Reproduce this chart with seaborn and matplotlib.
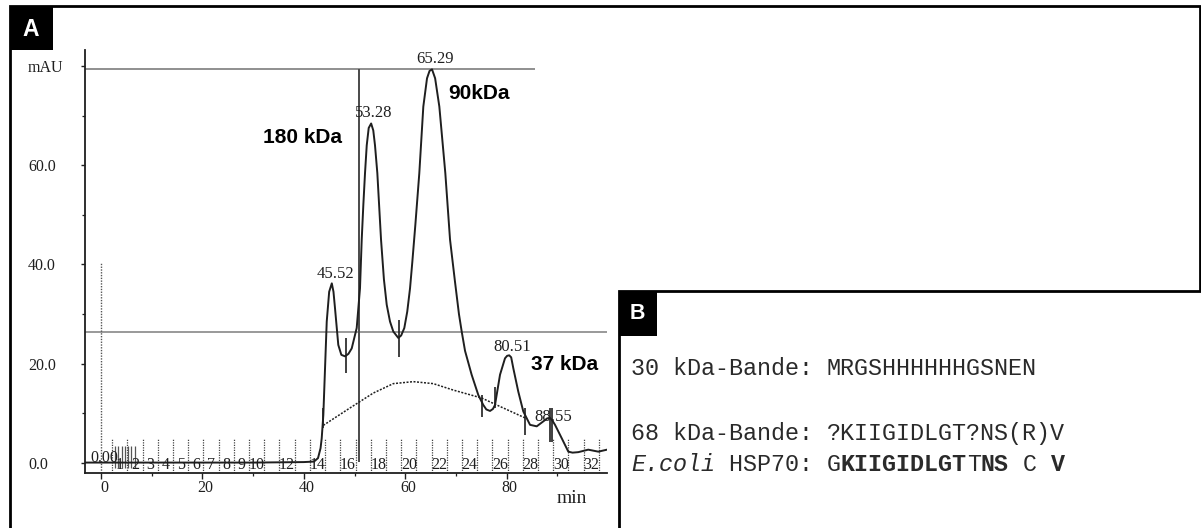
import matplotlib
matplotlib.use("Agg")
import matplotlib.pyplot as plt
from matplotlib.patches import Rectangle
from matplotlib.ticker import FixedLocator
from matplotlib.transforms import ScaledTranslation
import seaborn as sns

# ---------------------------------------------------------------- data
# UV trace of the gel filtration run (elution time in min, absorbance in mAU)
trace_time = [-3.16, 10.0, 20.0, 30.0, 40.0, 42.0, 42.8, 43.3, 43.53, 43.85,
              44.52, 45.0, 45.52, 45.85, 46.15, 46.8, 47.4, 48.13, 48.8, 49.45,
              50.43, 51.08, 51.42, 51.74, 52.07, 52.41, 52.8, 53.28, 53.7, 54.04,
              54.5, 55.23, 55.8, 56.35, 57.0, 57.65, 58.64, 59.2, 59.82, 60.4,
              60.95, 61.4, 62.0, 62.78, 63.57, 64.3, 64.8, 65.29, 65.9, 66.73,
              67.91, 68.84, 69.82, 70.6, 71.14, 71.8, 73.1, 74.42, 75.4, 76.0, 76.73,
              77.3, 77.71, 78.7, 79.68, 80.1, 80.51, 80.9, 81.32, 82.3, 83.29,
              84.62, 85.94, 87.24, 88.0, 88.55, 89.0, 89.55, 90.87, 92.17, 93.0,
              94.14, 96.1, 98.09, 99.8]
trace_abs = [0.1, 0.1, 0.1, 0.1, 0.2, 0.3, 1.0, 3.0, 5.0, 9.7,
             28.5, 34.5, 36.2, 34.5, 31.2, 23.8, 21.8, 21.5, 22.0, 23.1,
             27.2, 35.2, 45.0, 52.0, 58.4, 64.0, 67.5, 68.4, 67.0, 64.0,
             58.4, 45.0, 37.0, 31.9, 28.5, 26.5, 25.2, 25.7, 27.2, 30.5,
             35.2, 40.5, 48.0, 58.4, 71.8, 77.5, 79.0, 79.3, 77.5, 71.8,
             58.4, 45.0, 36.5, 30.0, 26.5, 22.6, 17.8, 13.7, 11.7, 10.8, 10.5,
             10.9, 11.7, 17.8, 21.1, 21.6, 21.7, 21.3, 19.1, 14.4, 10.4,
             7.7, 7.4, 8.4, 9.0, 9.1, 8.6, 7.7, 5.0, 2.3, 2.1,
             2.2, 2.7, 2.3, 2.7]

# integration baseline drawn under the protein peaks
base_time = [43.85, 49.1, 53.7, 57.65, 61.6, 65.54, 69.49, 75.09, 78.05, 83.63]
base_abs = [7.6, 11.1, 14.1, 16.0, 16.4, 16.0, 14.7, 13.1, 11.7, 9.1]

# integrated peaks (retention time, apex height)
peak_times = [45.52, 53.28, 65.29, 80.51, 88.55]
peak_heights = [36.2, 68.4, 79.3, 21.7, 9.1]

# integration start/stop ticks
event_time = [43.85, 48.4, 58.8, 75.1, 77.7, 83.6, 88.56, 89.0]
event_low = [7.0, 18.1, 21.4, 9.3, 11.1, 5.7, 4.3, 4.3]
event_high = [11.0, 25.1, 28.8, 13.7, 15.4, 11.1, 11.1, 11.1]

# fraction collector: boundaries (min) and fraction numbers printed
fraction_bounds = [2.2, 5.2, 8.2, 11.2, 14.2, 17.2, 20.2, 23.2, 26.2, 29.2,
                   32.2, 35.2, 38.2, 41.2, 44.2, 47.2, 50.2, 53.2, 56.2, 59.2,
                   62.2, 65.2, 68.2, 71.2, 74.2, 77.2, 80.2, 83.2, 86.2, 89.2,
                   92.2, 95.2, 98.2]
fraction_labels = ["1", "2", "3", "4", "5", "6", "7", "8", "9", "10",
                   "", "12", "", "14", "", "16", "", "18", "", "20",
                   "", "22", "", "24", "", "26", "", "28", "", "30",
                   "", "32"]

# injection and early method events
injection_time = 0.0
injection_mark_top = 40.6
startup_marks = [2.8, 3.4, 4.1, 4.7, 5.4, 6.0, 6.7]

# reference levels of the run report
upper_level = 79.3
upper_level_end = 85.6
threshold_level = 26.4
collect_time = 50.9
collect_bottom = 0.3

# molecular-weight assignments
mw_labels = ["180 kDa", "90kDa", "37 kDa"]

# axis ticks
x_ticks = [0, 20, 40, 60, 80]
y_ticks = [0, 20, 40, 60, 80]
y_ticklabels = ["0.0", "20.0", "40.0", "60.0", "mAU"]

# N-terminal sequencing results
seq_rows = [
    [("30 kDa-Bande: ", "normal", "normal"), ("MRGSHHHHHHGSNEN", "normal", "normal")],
    [("68 kDa-Bande: ", "normal", "normal"), ("?KIIGIDLGT?NS(R)V", "normal", "normal")],
    [("E.coli", "normal", "italic"), (" HSP70: ", "normal", "normal"),
     ("G", "normal", "normal"), ("KIIGIDLGT", "bold", "normal"),
     ("T", "normal", "normal"), ("NS", "bold", "normal"),
     (" C ", "normal", "normal"), ("V", "bold", "normal")],
]

# ---------------------------------------------------------------- style
sns.set_theme(style="ticks")
SERIF = "Liberation Serif"
SANS = "Liberation Sans"
MONO = "Liberation Mono"
plt.rcParams["font.family"] = [SERIF, "DejaVu Sans"]
INK = "#1f1f1f"
GREY = "#7d7d7d"

W, H = 1201, 528
fig = plt.figure(figsize=(W / 100, H / 100), dpi=100)
fig.patch.set_facecolor("white")


def fx(px):
    return px / W


def fy(py):
    return 1 - py / H


# ---------------------------------------------------------------- panel A
ax = fig.add_axes([fx(85), fy(473), (607 - 85) / W, (473 - 50) / H])
ax.set_facecolor("white")

sns.lineplot(x=trace_time, y=trace_abs, sort=False, estimator=None, ax=ax,
             color=INK, lw=1.4, zorder=4)
sns.lineplot(x=base_time, y=base_abs, sort=False, estimator=None, ax=ax,
             color=INK, lw=1.1, linestyle=(0, (1.3, 1.0)), zorder=3)

ax.hlines(upper_level, -3.16, upper_level_end, color=GREY, lw=1.2, zorder=2)
ax.hlines(threshold_level, -3.16, 99.8, color=GREY, lw=1.1, zorder=2)
ax.vlines(collect_time, collect_bottom, upper_level, color="#4a4a4a", lw=1.4, zorder=2)
ax.vlines(injection_time, -2.0, injection_mark_top, color="#555555", lw=1.0,
          linestyles=(0, (1.0, 1.0)), zorder=2)
ax.vlines(event_time, event_low, event_high, color=INK, lw=1.2, zorder=5)
ax.vlines(fraction_bounds, -2.0, 5.1, color="#444444", lw=0.9,
          linestyles=(0, (1.0, 1.0)), zorder=2)
ax.vlines(startup_marks, -1.0, 3.5, color="#555555", lw=0.9, zorder=2)

for k, lab in enumerate(fraction_labels):
    if lab:
        mid = (fraction_bounds[k] + fraction_bounds[k + 1]) / 2
        ax.text(mid, -0.4, lab, ha="center", va="center", fontsize=11.5,
                color=INK, family=SERIF, zorder=6)

ax.text(injection_time + 0.6, 1.0, "0.00", ha="center", va="center",
        fontsize=11.5, color=INK, family=SERIF, zorder=6)

peak_offsets = [(0.7, 0.2), (0.5, 0.4), (0.6, 0.4), (0.6, 0.0), (0.6, -1.5)]
for t, h, (dx, dy) in zip(peak_times, peak_heights, peak_offsets):
    ax.text(t + dx, h + dy, f"{t:.2f}", ha="center", va="bottom",
            fontsize=12, color=INK, family=SERIF, zorder=6)

mw_pos = [(39.7, 65.5), (74.6, 74.5), (91.4, 19.8)]
for lab, (t, v) in zip(mw_labels, mw_pos):
    ax.text(t, v, lab, ha="center", va="center", fontsize=15,
            fontweight="bold", color="black", family=SANS, zorder=6)

ax.text(92.9, -7.2, "min", ha="center", va="center", fontsize=14,
        color=INK, family=SERIF, clip_on=False)

ax.set_xlim(-3.16, 99.8)
ax.set_ylim(-2.0, 83.2)
sns.despine(ax=ax)
for side in ("left", "bottom"):
    ax.spines[side].set_color(INK)
    ax.spines[side].set_linewidth(1.3)

ax.set_xticks(x_ticks)
ax.set_xticklabels([str(v) for v in x_ticks])
ax.set_yticks(y_ticks)
ax.set_yticklabels(y_ticklabels)
ax.xaxis.set_minor_locator(FixedLocator([10, 30, 50, 70, 90]))
ax.yaxis.set_minor_locator(FixedLocator([10, 30, 50, 70]))
ax.tick_params(axis="y", which="major", direction="out", length=3, width=1.0,
               pad=38, labelsize=11.5, colors=INK)
ax.tick_params(axis="x", which="major", direction="out", length=4, width=1.0,
               pad=1, labelsize=11.5, colors=INK)
ax.tick_params(which="minor", direction="out", length=2, width=0.9, colors=INK)
for lab in ax.get_yticklabels():
    lab.set_horizontalalignment("left")
    lab.set_family(SERIF)
shift = ScaledTranslation(3 / 100, 0, fig.dpi_scale_trans)
for lab in ax.get_xticklabels():
    lab.set_transform(lab.get_transform() + shift)
    lab.set_family(SERIF)
ax.set_xlabel("")
ax.set_ylabel("")

# ---------------------------------------------------------------- frames
fig.add_artist(Rectangle((fx(9.5), fy(545)), fx(1200.3) - fx(9.5), fy(6.5) - fy(545),
                         transform=fig.transFigure, fill=False, edgecolor="black",
                         lw=2.0, zorder=8, clip_on=False))
fig.add_artist(Rectangle((fx(9.5), fy(50)), fx(53) - fx(9.5), fy(6.5) - fy(50),
                         transform=fig.transFigure, facecolor="black",
                         edgecolor="black", lw=0, zorder=9))
fig.text(fx(31), fy(29), "A", ha="center", va="center", color="white",
         fontsize=16.5, fontweight="bold", family=SANS, zorder=10)

# ---------------------------------------------------------------- panel B
fig.add_artist(Rectangle((fx(618.7), fy(545)), fx(1230) - fx(618.7), fy(290.7) - fy(545),
                         transform=fig.transFigure, facecolor="white",
                         edgecolor="black", lw=2.0, zorder=11, clip_on=False))
fig.add_artist(Rectangle((fx(618.7), fy(336)), fx(657) - fx(618.7), fy(290.7) - fy(336),
                         transform=fig.transFigure, facecolor="black",
                         edgecolor="black", lw=0, zorder=12))
fig.text(fx(637.5), fy(313.5), "B", ha="center", va="center", color="white",
         fontsize=15.5, fontweight="bold", family=SANS, zorder=13)

mono_size = 16.8
char_px = 0.6 * mono_size * 100 / 72
row_baselines = [375, 440, 470.7]
for row, base in zip(seq_rows, row_baselines):
    col = 0
    for text, weight, style in row:
        fig.text(fx(631 + col * char_px), fy(base), text, ha="left", va="baseline",
                 fontsize=mono_size, family=MONO, fontweight=weight,
                 fontstyle=style, color="#2a2a2a", zorder=13)
        col += len(text)

fig.savefig("out.png", dpi=100)
